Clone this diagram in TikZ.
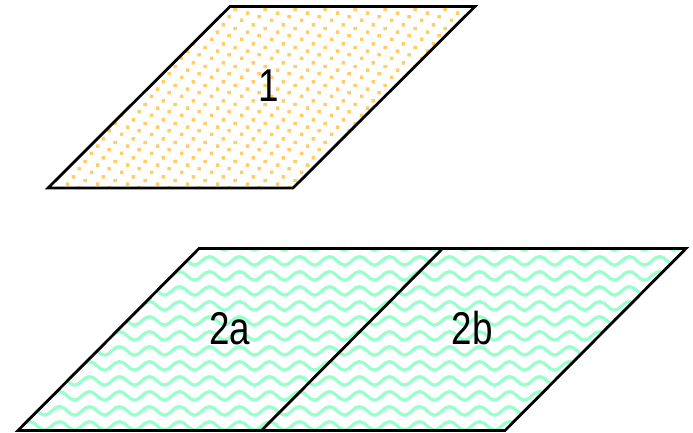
\documentclass[tikz,border=0pt]{standalone}
\usepackage{fontspec}
\newfontfamily\labelfont[FakeStretch=0.8]{Liberation Sans}
\usetikzlibrary{patterns}
\definecolor{dotorange}{RGB}{255,204,102}
\definecolor{wavegreen}{RGB}{153,255,204}
\pgfdeclarepatternformonly{orangedots}{\pgfqpoint{0pt}{0pt}}{\pgfqpoint{30pt}{18.5pt}}{\pgfqpoint{30pt}{18.5pt}}{%
  \pgfpathrectangle{\pgfqpoint{0pt}{0pt}}{\pgfqpoint{3.6pt}{3.4pt}}
  \pgfpathrectangle{\pgfqpoint{18pt}{3.7pt}}{\pgfqpoint{3.6pt}{3.4pt}}
  \pgfpathrectangle{\pgfqpoint{6pt}{7.4pt}}{\pgfqpoint{3.6pt}{3.4pt}}
  \pgfpathrectangle{\pgfqpoint{24pt}{11.1pt}}{\pgfqpoint{3.6pt}{3.4pt}}
  \pgfpathrectangle{\pgfqpoint{12pt}{14.8pt}}{\pgfqpoint{3.6pt}{3.4pt}}
  \pgfusepath{fill}}
\pgfdeclarepatternformonly{greenwaves}{\pgfqpoint{0pt}{0pt}}{\pgfqpoint{30pt}{15pt}}{\pgfqpoint{30pt}{15pt}}{%
  \pgfsetlinewidth{3.4pt}
  \pgfpathmoveto{\pgfqpoint{-7.5pt}{7.5pt}}
  \pgfpathsine{\pgfqpoint{7.5pt}{4.5pt}}
  \pgfpathcosine{\pgfqpoint{7.5pt}{-4.5pt}}
  \pgfpathsine{\pgfqpoint{7.5pt}{-4.5pt}}
  \pgfpathcosine{\pgfqpoint{7.5pt}{4.5pt}}
  \pgfpathsine{\pgfqpoint{7.5pt}{4.5pt}}
  \pgfpathcosine{\pgfqpoint{7.5pt}{-4.5pt}}
  \pgfusepath{stroke}}
\tikzset{
  rim/.style={draw=black, line width=2.8pt, line join=miter},
  dotted area/.style={rim, pattern=orangedots, pattern color=dotorange},
  wavy area/.style={rim, pattern=greenwaves, pattern color=wavegreen},
  lbl/.style={font=\labelfont\fontsize{46}{46}\selectfont, inner sep=0pt}
}
\begin{document}
\begin{tikzpicture}[x=1pt, y=-1pt]
  \useasboundingbox (0,0) rectangle (693,433);
  % upper face
  \coordinate (tnw) at (230,6.5);
  \coordinate (tne) at (475,6.5);
  \coordinate (tse) at (293,188);
  \coordinate (tsw) at (48,188);
  \draw[dotted area] (tnw) -- (tne) -- (tse) -- (tsw) -- cycle;
  \node[lbl] (one) at (268.5,85.5) {1};
  % lower face, split in two
  \coordinate (bnw) at (199,248.5);
  \coordinate (bne) at (686,248.5);
  \coordinate (bse) at (505,430.5);
  \coordinate (bsw) at (18,430.5);
  \coordinate (bnm) at (442.5,248.5);
  \coordinate (bsm) at (261.5,430.5);
  \draw[wavy area] (bnw) -- (bne) -- (bse) -- (bsw) -- cycle;
  \draw[rim] (bnm) -- (bsm);
  \node[lbl] (twoa) at (230,328.5) {2a};
  \node[lbl] (twob) at (472,328.5) {2b};
\end{tikzpicture}
\end{document}
